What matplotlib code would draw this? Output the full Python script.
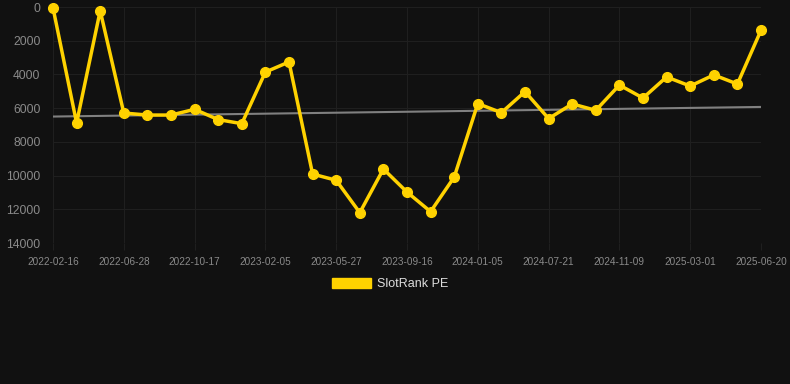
import matplotlib
matplotlib.use("Agg")
import matplotlib.pyplot as plt
import numpy as np

tick_labels = ["2022-02-16", "2022-06-28", "2022-10-17", "2023-02-05", "2023-05-27",
               "2023-09-16", "2024-01-05", "2024-07-21", "2024-11-09", "2025-03-01",
               "2025-06-20"]
series_name = "SlotRank PE"
rank_values = [50, 6880, 220, 6290, 6410, 6410, 6070, 6680, 6920, 3860, 3260,
               9910, 10280, 12200, 9610, 10980, 12140, 10090, 5730, 6270, 5020,
               6620, 5750, 6130, 4630, 5400, 4150, 4690, 4030, 4570, 1380]
y_ticks = [0, 2000, 4000, 6000, 8000, 10000, 12000, 14000]

plt.rcParams['font.family'] = ['Liberation Sans', 'DejaVu Sans']

bg = "#111111"
yellow = "#FFD200"
fig = plt.figure(figsize=(7.9, 3.84), dpi=100, facecolor=bg)
ax = fig.add_axes([53/790, 1-243/384, (761-53)/790, (243-7)/384], facecolor=bg)

x = np.arange(len(rank_values))
vals = np.array(rank_values, dtype=float)

# trend line (linear regression)
coef = np.polyfit(x, vals, 1)
ax.plot([x[0], x[-1]], np.polyval(coef, [x[0], x[-1]]), color="#808080", lw=1.5, zorder=2)

ax.plot(x, vals, color=yellow, lw=2.5, marker="o", markersize=7, zorder=3, clip_on=False,
        label=series_name)

ax.set_xlim(0, len(rank_values) - 1)
ax.set_ylim(14000, 0)
ax.set_yticks(y_ticks)
ax.set_yticklabels([str(v) for v in y_ticks])
ax.set_xticks(np.arange(0, len(rank_values), 3))
ax.set_xticklabels(tick_labels)

for s in ax.spines.values():
    s.set_visible(False)
ax.grid(True, color="#1f1f1f", lw=0.8, zorder=0)
ax.tick_params(axis="y", length=0, pad=9, labelsize=8.7, labelcolor="#8a8a8a")
ax.tick_params(axis="x", length=5, color="#1f1f1f", pad=5, labelsize=7.2, labelcolor="#8a8a8a")

# legend
from matplotlib.patches import Rectangle
leg_patch = Rectangle((0, 0), 1, 1, facecolor=yellow, edgecolor=yellow)
leg = fig.legend([leg_patch], [series_name], loc="center", bbox_to_anchor=(390/790, 1-284/384),
                 frameon=False, fontsize=9, handlelength=3.1, handleheight=0.9,
                 handletextpad=0.5, labelcolor="#dddddd")

fig.savefig("out.png", dpi=100, facecolor=bg)
